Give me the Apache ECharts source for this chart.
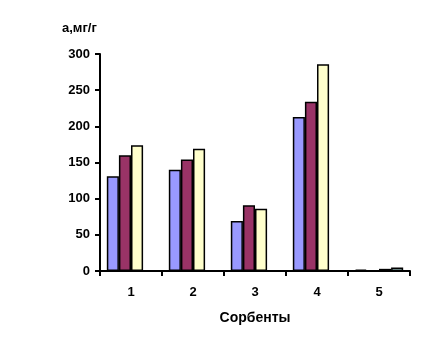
<!DOCTYPE html>
<html>
<head>
<meta charset="utf-8">
<script src="https://cdn.jsdelivr.net/npm/echarts@6/dist/echarts.min.js"></script>
<style>
html,body{margin:0;padding:0;background:#fff;}
#chart{width:426px;height:348px;}
</style>
</head>
<body>
<div id="chart"></div>
<script>
// Sorbent numbers along the x axis
const categories = ['1', '2', '3', '4', '5'];
// Adsorption values a, mg/g, four series per sorbent
const seriesA = [131, 140, 69, 213, 2];
const seriesB = [160, 154, 91, 234, 1];
const seriesC = [174, 169, 86, 286, 3];
const seriesD = [null, null, null, null, 5];
const yTicks = [0, 50, 100, 150, 200, 250, 300];

const colors = ['#9999FF', '#993366', '#FFFFCC', '#CCFFFF'];
const font = 'Liberation Sans, Arial, sans-serif';

const chart = echarts.init(document.getElementById('chart'), null, {renderer: 'canvas'});

function bar(data, color) {
  return {
    type: 'bar',
    data: data,
    barGap: '0%',
    barCategoryGap: '22%',
    itemStyle: {color: color, borderColor: '#000', borderWidth: 1.5},
    animation: false
  };
}

chart.setOption({
  backgroundColor: '#fff',
  animation: false,
  grid: {left: 100, right: 16, top: 54, bottom: 77, containLabel: false},
  graphic: [{
    type: 'text', left: 62, top: 22,
    style: {text: 'а,мг/г', font: 'bold 13px ' + font, fill: '#000'}
  }],
  xAxis: {
    type: 'category',
    data: categories,
    name: 'Сорбенты',
    nameLocation: 'middle',
    nameGap: 40,
    nameTextStyle: {fontFamily: font, fontWeight: 'bold', fontSize: 14, color: '#000'},
    axisLine: {lineStyle: {color: '#000', width: 2}},
    axisTick: {show: true, inside: false, length: 5, lineStyle: {color: '#000', width: 2}, alignWithLabel: false},
    axisLabel: {fontFamily: font, fontWeight: 'bold', fontSize: 13, color: '#000', margin: 15},
    splitLine: {show: false}
  },
  yAxis: {
    type: 'value',
    min: yTicks[0],
    max: yTicks[yTicks.length - 1],
    interval: yTicks[1] - yTicks[0],
    axisLine: {show: true, lineStyle: {color: '#000', width: 2}},
    axisTick: {show: true, length: 5, lineStyle: {color: '#000', width: 2}},
    axisLabel: {fontFamily: font, fontWeight: 'bold', fontSize: 13, color: '#000', margin: 10},
    splitLine: {show: false}
  },
  series: [
    bar(seriesA, colors[0]),
    bar(seriesB, colors[1]),
    bar(seriesC, colors[2]),
    bar(seriesD, colors[3])
  ]
});
</script>
</body>
</html>
